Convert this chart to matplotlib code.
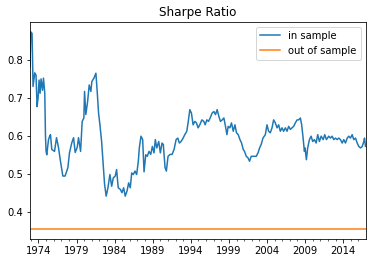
import numpy as np
import matplotlib
matplotlib.use("Agg")
import matplotlib.pyplot as plt
from matplotlib.ticker import FixedLocator, MultipleLocator

# decimal years
years = [
    1972.89, 1972.99, 1973.16, 1973.29, 1973.51, 1973.68, 1973.82, 1973.95, 1974.08, 1974.21,
    1974.34, 1974.53, 1974.66, 1974.83, 1974.92, 1975.00, 1975.09, 1975.32, 1975.49, 1975.58,
    1975.75, 1976.11, 1976.37, 1976.63, 1976.89, 1977.20, 1977.50, 1977.86, 1978.08, 1978.38,
    1978.61, 1978.82, 1979.08, 1979.26, 1979.53, 1979.74, 1979.96, 1980.05, 1980.22, 1980.45,
    1980.66, 1980.88, 1981.01, 1981.28, 1981.54, 1981.71, 1981.89, 1982.07, 1982.29, 1982.50,
    1982.68, 1982.89, 1983.12, 1983.38, 1983.61, 1983.82, 1984.08, 1984.26, 1984.47, 1984.74,
    1984.96, 1985.18, 1985.39, 1985.62, 1985.84, 1986.05, 1986.24, 1986.45, 1986.67, 1986.89,
    1987.11, 1987.24, 1987.46, 1987.68, 1987.86, 1988.08, 1988.29, 1988.51, 1988.74, 1988.95,
    1989.17, 1989.34, 1989.53, 1989.79, 1990.00, 1990.22, 1990.39, 1990.62, 1990.79, 1991.01,
    1991.28, 1991.54, 1991.80, 1992.07, 1992.29, 1992.50, 1992.72, 1992.99, 1993.21, 1993.47,
    1993.64, 1993.87, 1994.08, 1994.30, 1994.53, 1994.74, 1994.96, 1995.18, 1995.45, 1995.71,
    1995.88, 1996.11, 1996.32, 1996.54, 1996.80, 1997.03, 1997.24, 1997.46, 1997.68, 1997.89,
    1998.12, 1998.34, 1998.55, 1998.74, 1998.91, 1999.13, 1999.34, 1999.57, 1999.79, 2000.00,
    2000.22, 2000.45, 2000.66, 2000.88, 2001.05, 2001.28, 2001.50, 2001.71, 2001.93, 2002.16,
    2002.37, 2002.59, 2002.82, 2003.03, 2003.25, 2003.47, 2003.78, 2004.00, 2004.21, 2004.43,
    2004.66, 2004.87, 2005.09, 2005.32, 2005.53, 2005.75, 2005.97, 2006.18, 2006.41, 2006.63,
    2006.84, 2007.07, 2007.29, 2007.50, 2007.72, 2007.95, 2008.16, 2008.38, 2008.55, 2008.74,
    2008.91, 2009.00, 2009.17, 2009.34, 2009.57, 2009.79, 2010.00, 2010.22, 2010.45, 2010.66,
    2010.88, 2011.11, 2011.37, 2011.58, 2011.80, 2012.11, 2012.33, 2012.55, 2012.76, 2012.99,
    2013.21, 2013.42, 2013.64, 2013.87, 2014.08, 2014.30, 2014.53, 2014.74, 2014.96, 2015.18,
    2015.39, 2015.62, 2015.84, 2016.05, 2016.28, 2016.50, 2016.71, 2016.80, 2016.93,
]

in_sample = [
    0.782, 0.874, 0.870, 0.730, 0.766, 0.760, 0.677, 0.700, 0.747, 0.712,
    0.750, 0.720, 0.752, 0.712, 0.600, 0.560, 0.550, 0.590, 0.600, 0.603,
    0.564, 0.559, 0.595, 0.569, 0.533, 0.494, 0.494, 0.516, 0.556, 0.582,
    0.595, 0.556, 0.569, 0.595, 0.559, 0.638, 0.647, 0.717, 0.656, 0.690,
    0.734, 0.717, 0.743, 0.752, 0.765, 0.717, 0.660, 0.629, 0.585, 0.524,
    0.472, 0.441, 0.463, 0.498, 0.467, 0.489, 0.494, 0.511, 0.463, 0.459,
    0.450, 0.463, 0.441, 0.454, 0.476, 0.463, 0.502, 0.498, 0.507, 0.498,
    0.533, 0.568, 0.599, 0.590, 0.505, 0.550, 0.546, 0.559, 0.551, 0.572,
    0.555, 0.590, 0.568, 0.585, 0.555, 0.581, 0.577, 0.516, 0.507, 0.546,
    0.551, 0.551, 0.564, 0.590, 0.594, 0.581, 0.585, 0.594, 0.603, 0.612,
    0.634, 0.669, 0.660, 0.629, 0.638, 0.634, 0.621, 0.629, 0.642, 0.638,
    0.629, 0.642, 0.638, 0.647, 0.660, 0.664, 0.656, 0.669, 0.651, 0.638,
    0.642, 0.647, 0.625, 0.603, 0.625, 0.621, 0.634, 0.612, 0.629, 0.608,
    0.603, 0.590, 0.581, 0.564, 0.559, 0.546, 0.542, 0.533, 0.546, 0.546,
    0.546, 0.546, 0.555, 0.568, 0.578, 0.594, 0.603, 0.629, 0.612, 0.608,
    0.621, 0.642, 0.634, 0.621, 0.629, 0.612, 0.621, 0.612, 0.621, 0.612,
    0.625, 0.617, 0.621, 0.625, 0.634, 0.642, 0.642, 0.647, 0.629, 0.594,
    0.559, 0.568, 0.537, 0.568, 0.590, 0.599, 0.585, 0.590, 0.581, 0.603,
    0.585, 0.599, 0.590, 0.603, 0.590, 0.599, 0.594, 0.599, 0.590, 0.594,
    0.590, 0.594, 0.590, 0.581, 0.590, 0.581, 0.594, 0.599, 0.594, 0.603,
    0.590, 0.594, 0.581, 0.572, 0.568, 0.572, 0.585, 0.594, 0.572,
]

out_of_sample = 0.354
year_ticks = [1974, 1979, 1984, 1989, 1994, 1999, 2004, 2009, 2014]

fig = plt.figure(figsize=(372 / 72, 264 / 72), dpi=72)
ax = fig.add_axes([30 / 372, 25 / 264, 335.5 / 372, 217 / 264])

ax.plot(years, in_sample, color="#1f77b4", linewidth=1.5, label="in sample")
ax.plot(years, np.full(len(years), out_of_sample), color="#ff7f0e", linewidth=1.5,
        label="out of sample")

ax.set_xlim(years[0], years[-1])
ax.xaxis.set_major_locator(FixedLocator(year_ticks))
ax.xaxis.set_minor_locator(MultipleLocator(1))
ax.set_xticklabels([str(y) for y in year_ticks])
ax.set_yticks([0.4, 0.5, 0.6, 0.7, 0.8])
ax.set_title("Sharpe Ratio")
ax.legend(loc="upper right")

fig.savefig("out.png", dpi=72)
